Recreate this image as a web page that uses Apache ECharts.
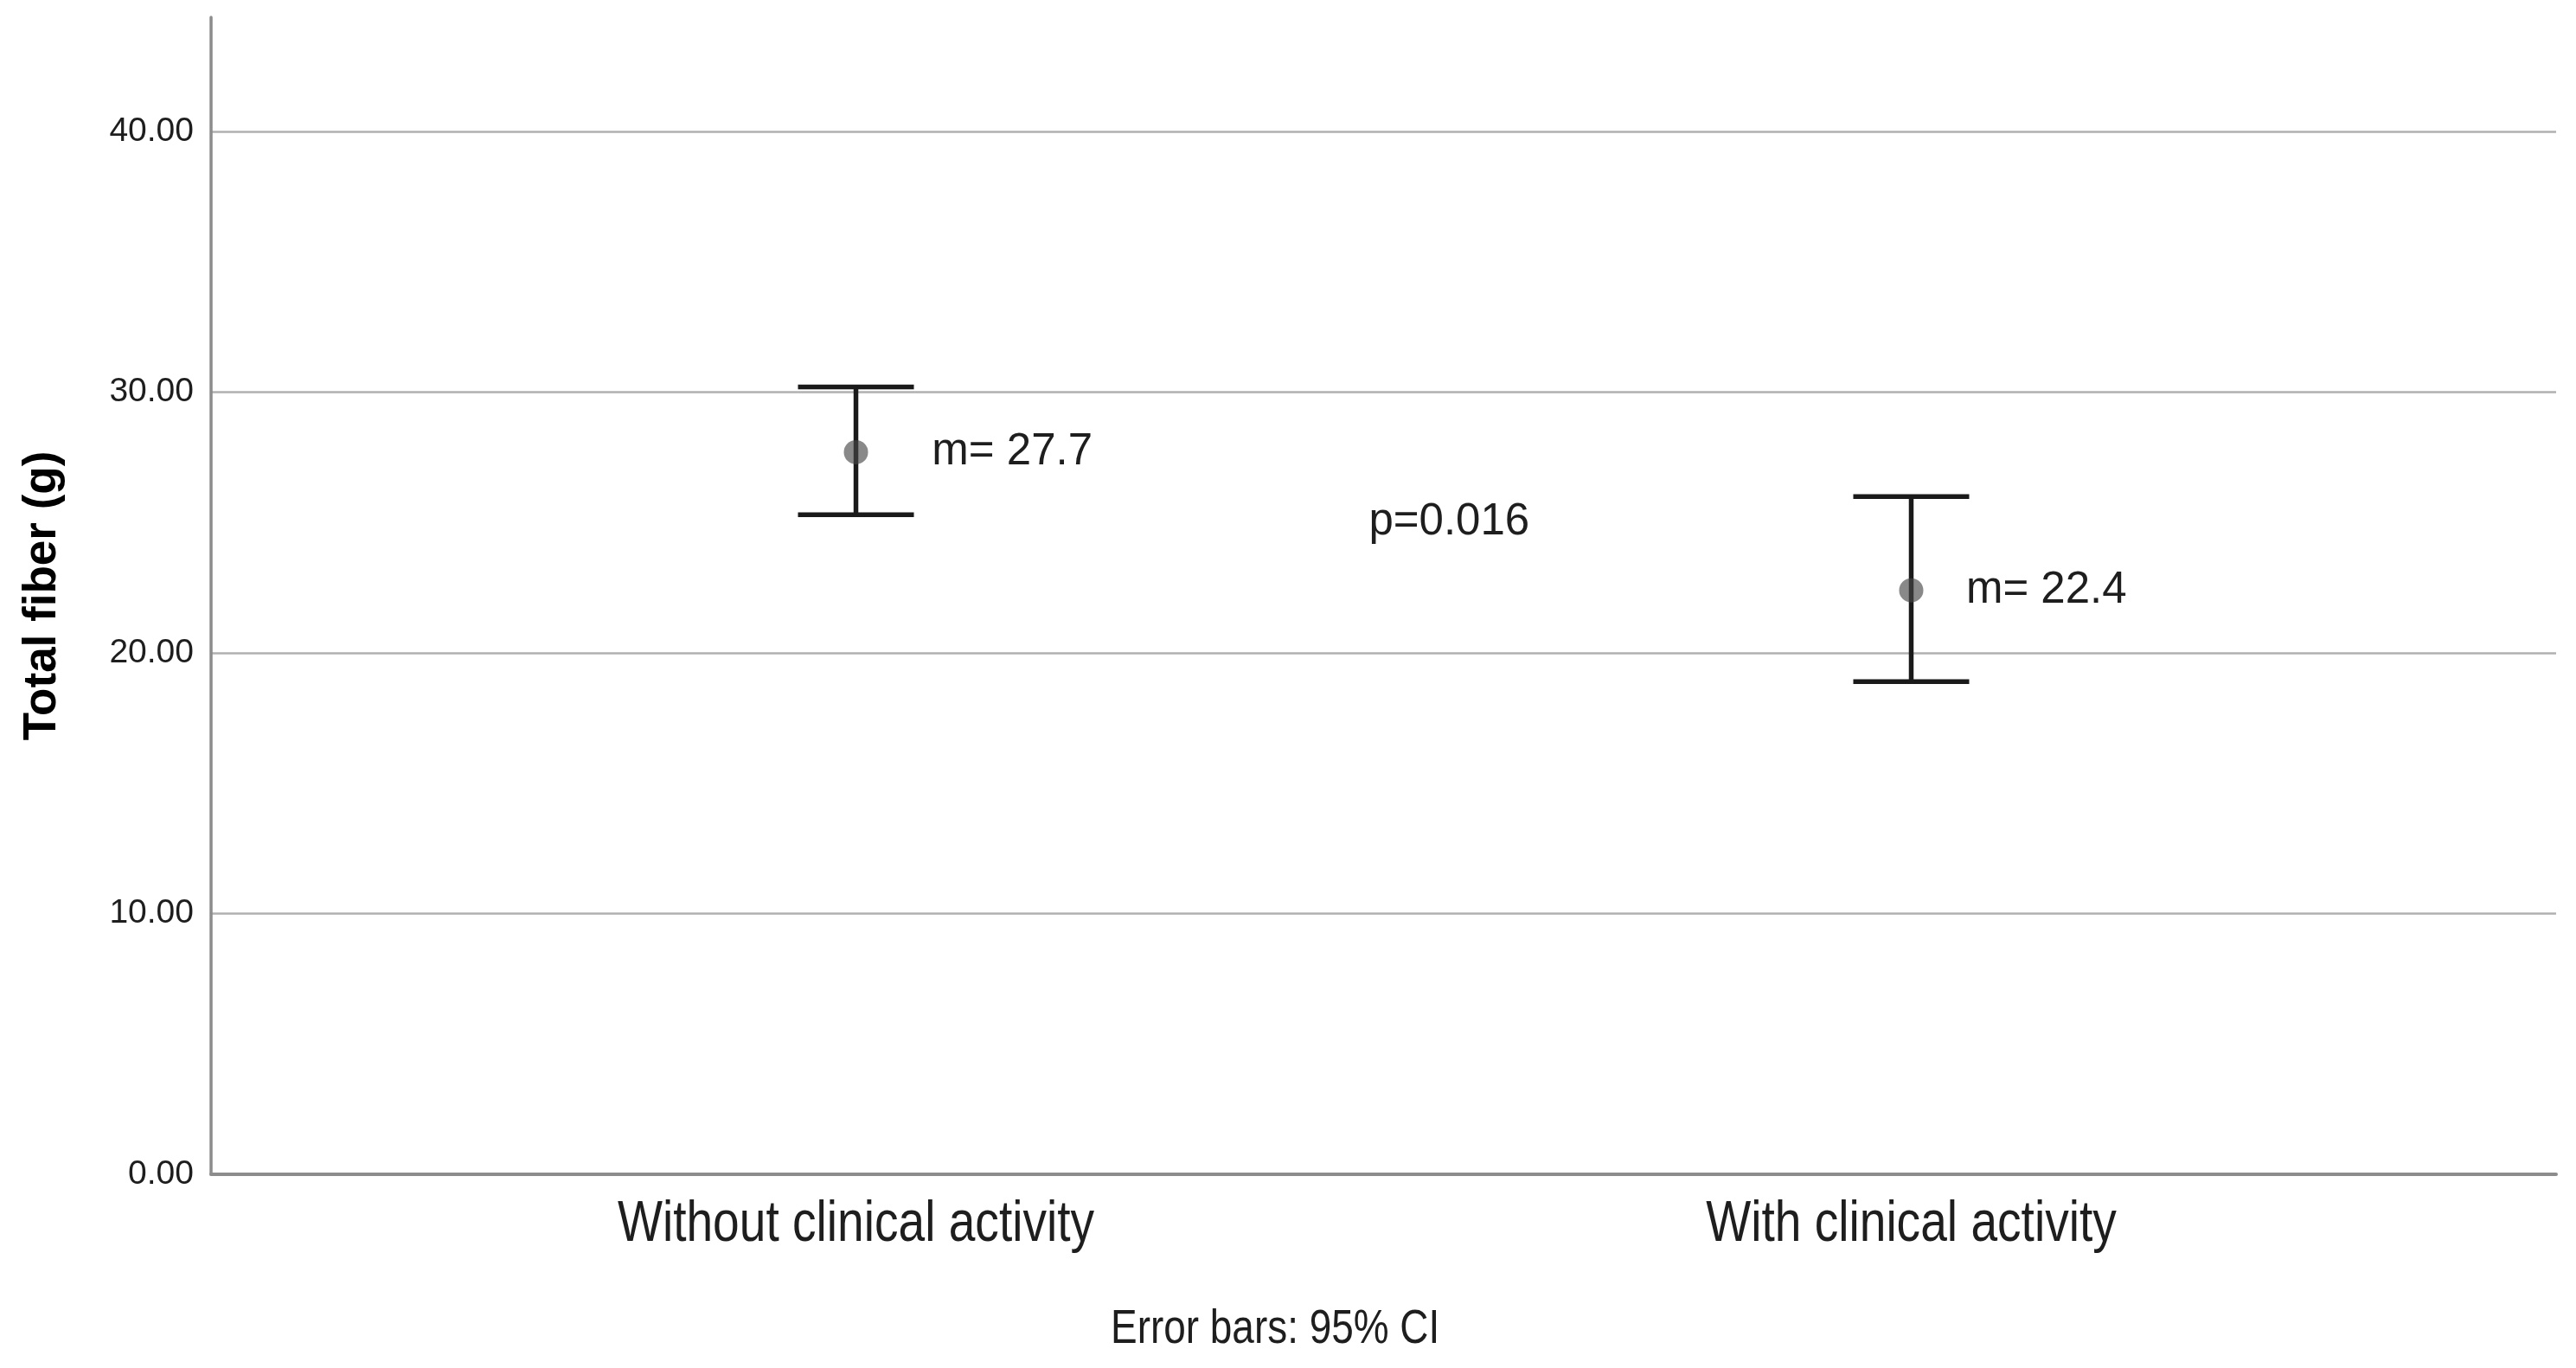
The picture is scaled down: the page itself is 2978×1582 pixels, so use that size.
<!DOCTYPE html>
<html>
<head>
<meta charset="utf-8">
<script src="https://cdn.jsdelivr.net/npm/echarts@6/dist/echarts.min.js"></script>
<style>html,body{margin:0;padding:0;background:#fff}#c{width:2978px;height:1582px}</style>
</head>
<body>
<div id="c"></div>
<script>
// ---- data ----
const categories = ['Without clinical activity', 'With clinical activity'];
const means = [27.7, 22.4];
const ciLower = [25.3, 18.9];
const ciUpper = [30.2, 26.0];
const yTicks = [0, 10, 20, 30, 40];
const meanLabels = ['m= 27.7', 'm= 22.4'];
const meanLabelX = [0.072, 1.052];
const pText = 'p=0.016';
const pPos = [0.486, 25.0];
const footnote = 'Error bars: 95% CI';

const sans = "'Liberation Sans', Arial, sans-serif";

const chart = echarts.init(document.getElementById('c'), null, {renderer: 'canvas'});

const errData = categories.map((c, i) => [i, ciLower[i], ciUpper[i]]);
const dotData = categories.map((c, i) => [i, means[i]]);
const annData = meanLabels.map((t, i) => [meanLabelX[i], means[i], t]).concat([[pPos[0], pPos[1], pText]]);
const catData = categories.map((c, i) => [i, 0, c]);

chart.setOption({
  animation: false,
  backgroundColor: '#ffffff',
  grid: {left: 244, right: 23, top: 20, bottom: 224},
  xAxis: {
    type: 'value', min: -0.6111, max: 1.6111,
    axisLine: {show: true, onZero: false, lineStyle: {color: '#8c8c8c', width: 4}},
    axisTick: {show: false},
    splitLine: {show: false},
    axisLabel: {show: false}
  },
  yAxis: {
    type: 'value', min: 0, max: 44.38, interval: 10,
    name: 'Total fiber (g)', nameLocation: 'middle', nameGap: 168,
    nameTextStyle: {fontFamily: sans, fontWeight: 'bold', fontSize: 53, color: '#000'},
    axisLine: {show: true, onZero: false, lineStyle: {color: '#8c8c8c', width: 3.5}},
    axisTick: {show: false, customValues: yTicks},
    splitLine: {show: true, lineStyle: {color: '#b0b0b0', width: 2.5}},
    axisLabel: {
      customValues: yTicks,
      formatter: v => v.toFixed(2),
      fontFamily: sans, fontSize: 39, color: '#1e1e1e', margin: 20
    }
  },
  series: [
    {
      type: 'custom', z: 3,
      data: errData,
      renderItem: (params, api) => {
        const x = api.value(0);
        const lo = api.coord([x, api.value(1)]);
        const hi = api.coord([x, api.value(2)]);
        const hw = 67;
        const st = {stroke: '#1a1a1a', lineWidth: 5.5};
        return {type: 'group', children: [
          {type: 'line', shape: {x1: lo[0], y1: lo[1], x2: hi[0], y2: hi[1]}, style: st},
          {type: 'line', shape: {x1: hi[0] - hw, y1: hi[1], x2: hi[0] + hw, y2: hi[1]}, style: st},
          {type: 'line', shape: {x1: lo[0] - hw, y1: lo[1], x2: lo[0] + hw, y2: lo[1]}, style: st}
        ]};
      }
    },
    {
      type: 'scatter', z: 4,
      data: dotData,
      symbol: 'circle', symbolSize: 28,
      itemStyle: {color: 'rgba(70,70,70,0.8)'}
    },
    {
      type: 'custom', z: 5,
      data: annData,
      renderItem: (params, api) => {
        const p = api.coord([api.value(0), api.value(1)]);
        return {type: 'text', x: p[0], y: p[1], style: {
          text: annData[params.dataIndex][2],
          fontFamily: sans, fontSize: 51, fill: '#1e1e1e',
          align: 'left', verticalAlign: 'middle'
        }};
      }
    },
    {
      type: 'custom', z: 5, clip: false,
      data: catData,
      renderItem: (params, api) => {
        const p = api.coord([api.value(0), api.value(1)]);
        return {type: 'text', x: p[0], y: p[1] + 26, scaleX: 0.835, style: {
          text: catData[params.dataIndex][2],
          fontFamily: sans, fontSize: 66, fill: '#1e1e1e',
          align: 'center', verticalAlign: 'top'
        }};
      }
    }
  ],
  graphic: [{
    type: 'text', x: 1284, y: 1510, scaleX: 0.82,
    style: {text: footnote, fontFamily: sans, fontSize: 56, fill: '#1e1e1e'}
  }]
});
</script>
</body>
</html>
